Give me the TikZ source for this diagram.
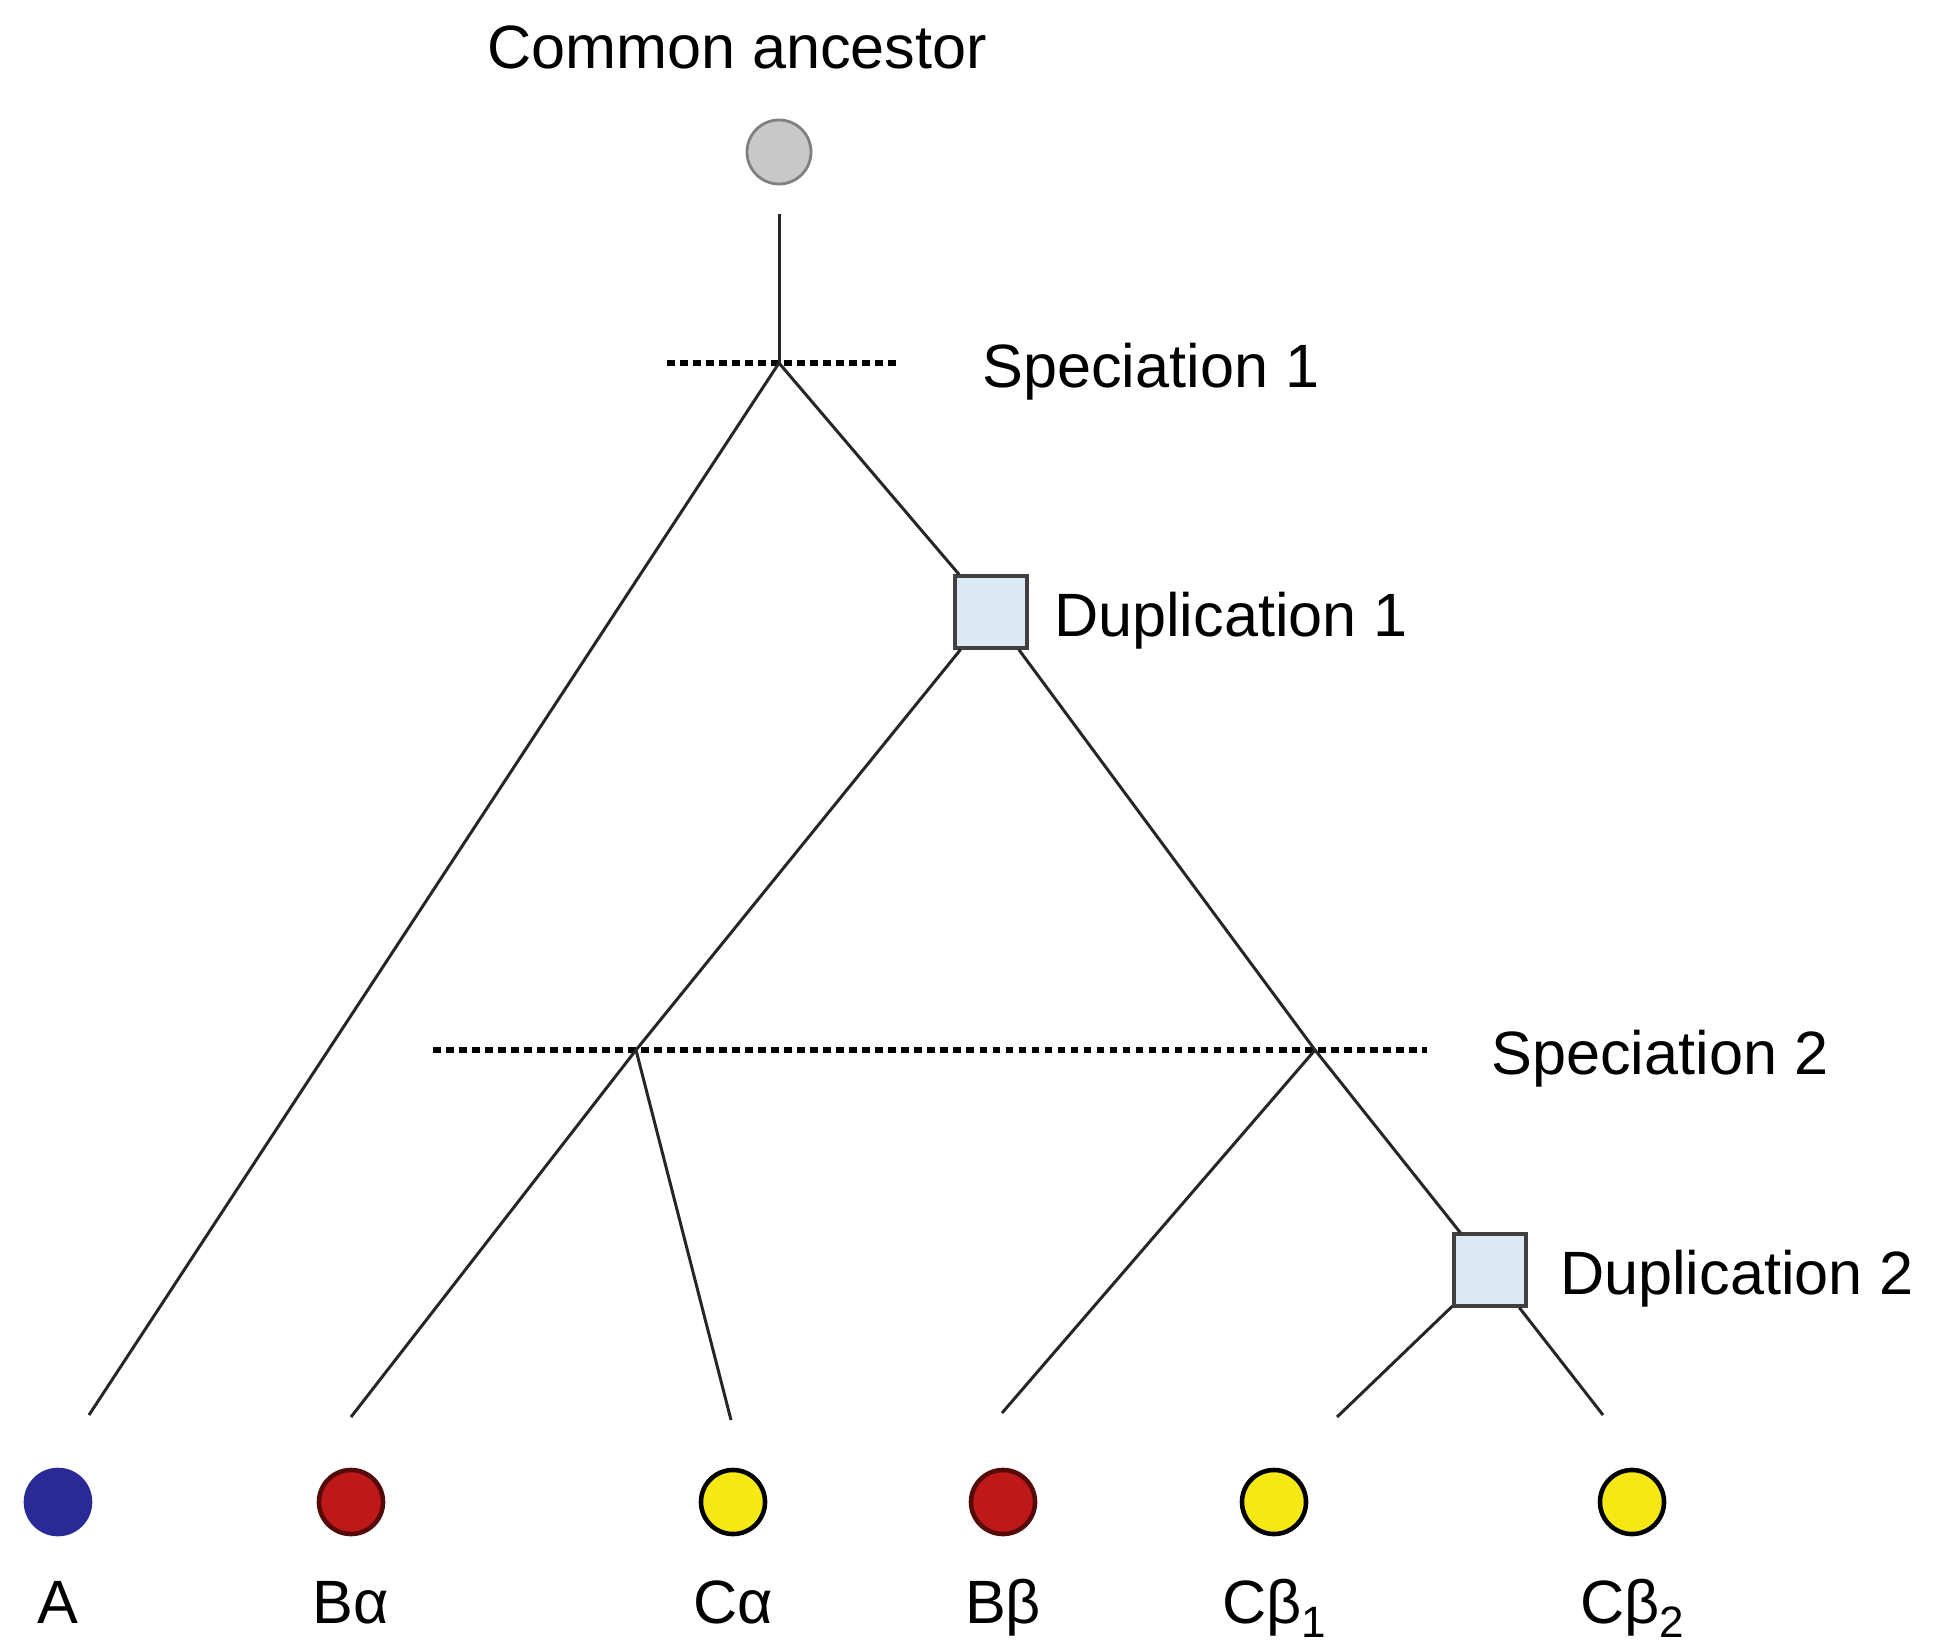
\documentclass[tikz,border=0pt]{standalone}
\usepackage{fontspec}
\setmainfont{Liberation Sans}
\usetikzlibrary{positioning}

\definecolor{ancgray}{RGB}{200,200,200}
\definecolor{leafblue}{RGB}{42,42,150}
\definecolor{leafred}{RGB}{190,24,24}
\definecolor{leafyellow}{RGB}{245,232,20}
\definecolor{dupfill}{RGB}{220,232,244}

\newcommand{\subidx}[1]{\raisebox{-0.45ex}{\fontsize{12.5}{13}\selectfont #1}}

\begin{document}
\begin{tikzpicture}[x=0.01cm,y=-0.01cm,
    every node/.style={font=\fontsize{17.4}{21}\selectfont},
    leaf/.style={circle,draw=black,line width=1.3pt,minimum size=0.64cm,inner sep=0pt},
    dupbox/.style={rectangle,draw=black!75,fill=dupfill,line width=0.9pt,minimum size=0.72cm,inner sep=0pt},
    eventlabel/.style={yshift=-2.5pt},
    leaflabel/.style={inner sep=2pt,text height=12.5pt,text depth=4pt},
    branch/.style={line width=0.85pt,black!85},
    event/.style={line width=1.5pt,dash pattern=on 2.2pt off 1.5pt}]
    \useasboundingbox (0,0) rectangle (1949,1643);
    % \draw[help lines,step=100] (0,0) grid (1949,1643);

    \node (anclabel) at (737,47) {Common ancestor};
    \node[circle,draw=black!50,fill=ancgray,line width=0.8pt,minimum size=0.64cm,inner sep=0pt] (anc) at (779,152) {};
    \coordinate (stem) at (779,214);

    % events
    \coordinate (s1) at (779,363);
    \coordinate (sp1w) at (667,363);
    \coordinate (sp1e) at (901,363);
    \node[eventlabel,right=0.69cm of sp1e] (sp1label) {Speciation 1};

    \node[dupbox] (dup1) at (991,612) {};
    \node[eventlabel,right=0.13cm of dup1] (dup1label) {Duplication 1};

    \coordinate (s2a) at (636,1050);
    \coordinate (s2b) at (1315,1050);
    \coordinate (sp2w) at (433,1050);
    \coordinate (sp2e) at (1427,1050);
    \node[eventlabel,right=0.52cm of sp2e] (sp2label) {Speciation 2};

    \node[dupbox] (dup2) at (1490,1270) {};
    \node[eventlabel,right=0.2cm of dup2] (dup2label) {Duplication 2};

    % branch tips
    \coordinate (tA) at (89,1415);
    \coordinate (tBa) at (351,1417);
    \coordinate (tCa) at (731,1420);
    \coordinate (tBb) at (1002,1413);
    \coordinate (tCb1) at (1337,1417);
    \coordinate (tCb2) at (1603,1415);

    % leaves
    \node[leaf,draw=leafblue,fill=leafblue] (A) at (58,1502) {};
    \node[leaf,draw=leafred!45!black,fill=leafred] (Ba) at (351,1502) {};
    \node[leaf,fill=leafyellow] (Ca) at (733,1502) {};
    \node[leaf,draw=leafred!45!black,fill=leafred] (Bb) at (1003,1502) {};
    \node[leaf,fill=leafyellow] (Cb1) at (1274,1502) {};
    \node[leaf,fill=leafyellow] (Cb2) at (1632,1502) {};

    \node[leaflabel,below=0.35cm of A] (Alabel) {A};
    \node[leaflabel,below=0.35cm of Ba] (Balabel) {Bα};
    \node[leaflabel,below=0.35cm of Ca] (Calabel) {Cα};
    \node[leaflabel,below=0.35cm of Bb] (Bblabel) {Bβ};
    \node[leaflabel,below=0.35cm of Cb1] (Cb1label) {Cβ\subidx{1}};
    \node[leaflabel,below=0.35cm of Cb2] (Cb2label) {Cβ\subidx{2}};

    \draw[event] (sp1w) -- (sp1e);
    \draw[event] (sp2w) -- (sp2e);

    \draw[branch] (stem) -- (s1);
    \draw[branch] (s1) -- (tA);
    \draw[branch] (s1) -- (dup1);
    \draw[branch] (dup1) -- (s2a) -- (tBa);
    \draw[branch] (s2a) -- (tCa);
    \draw[branch] (dup1) -- (s2b) -- (dup2);
    \draw[branch] (s2b) -- (tBb);
    \draw[branch] (dup2) -- (tCb1);
    \draw[branch] (dup2) -- (tCb2);
\end{tikzpicture}
\end{document}
